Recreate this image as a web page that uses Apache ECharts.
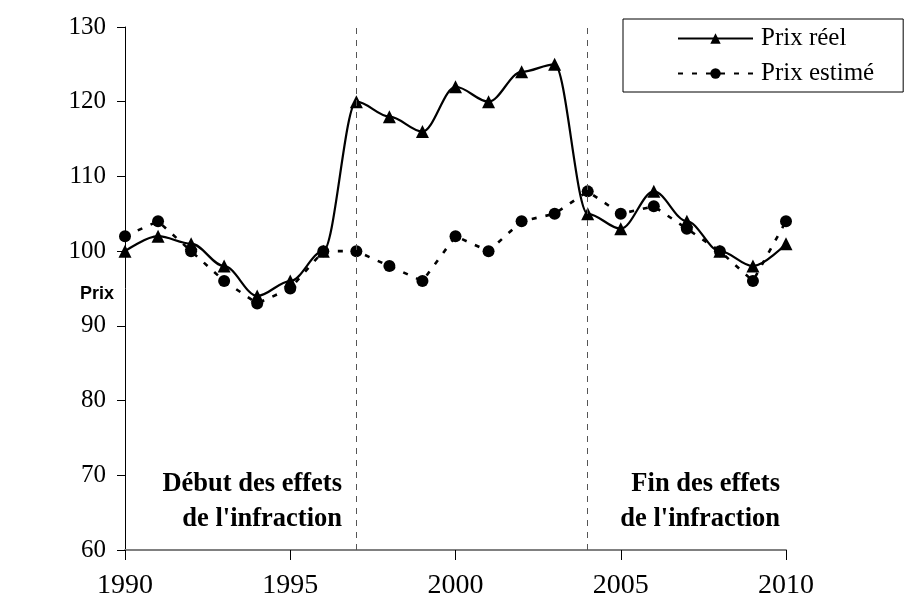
<!DOCTYPE html>
<html>
<head>
<meta charset="utf-8">
<script src="https://cdn.jsdelivr.net/npm/echarts@6/dist/echarts.min.js"></script>
<style>
  html, body { margin: 0; padding: 0; background: #fff; }
  #chart { width: 922px; height: 608px; }
</style>
</head>
<body>
<div id="chart"></div>
<script>
// années
const years = [1990, 1991, 1992, 1993, 1994, 1995, 1996, 1997, 1998, 1999, 2000,
  2001, 2002, 2003, 2004, 2005, 2006, 2007, 2008, 2009, 2010]
// prix réel
const prixReel = [100, 102, 101, 98, 94, 96, 100, 120, 118, 116, 122,
  120, 124, 125, 105, 103, 108, 104, 100, 98, 101]
// prix estimé
const prixEstime = [102, 104, 100, 96, 93, 95, 100, 100, 98, 96, 102,
  100, 104, 105, 108, 105, 106, 103, 100, 96, 104]
// début et fin des effets
const periodeInfraction = [1997, 2004]

const serif = '"Liberation Serif", "Times New Roman", serif'
const annotFont = 'bold 26.5px ' + serif

// une ligne de texte alignée à droite
const annot = (text, right, top) => ({
  type: 'text',
  right: 922 - right,
  top: top,
  style: { text: text, font: annotFont, fill: '#000' }
})

const chart = echarts.init(document.getElementById('chart'))

chart.setOption({
  animation: false,
  grid: { left: 125, right: 136, top: 27, bottom: 58 },
  legend: {
    orient: 'vertical',
    left: 623,
    top: 19,
    padding: [7, 29, 6, 54],
    itemGap: 10,
    itemWidth: 75,
    itemHeight: 13,
    borderColor: '#000',
    borderWidth: 1,
    borderRadius: 0,
    textStyle: { fontFamily: serif, fontSize: 25, color: '#000', padding: [0, 0, 0, 3] },
    data: ['Prix réel', 'Prix estimé']
  },
  xAxis: {
    type: 'value',
    min: 1990,
    max: 2010,
    interval: 5,
    axisLine: { lineStyle: { color: '#808080', width: 2 } },
    axisTick: { lineStyle: { color: '#000' }, length: 10 },
    axisLabel: {
      fontFamily: serif, fontSize: 28, color: '#000', margin: 22,
      formatter: v => String(v)
    },
    splitLine: { show: false }
  },
  yAxis: {
    type: 'value',
    min: 60,
    max: 130,
    interval: 10,
    axisLine: { show: true, lineStyle: { color: '#000', width: 1 } },
    axisTick: { show: true, length: 8, lineStyle: { color: '#000' } },
    axisLabel: { fontFamily: serif, fontSize: 25, color: '#000', margin: 19 },
    splitLine: { show: false }
  },
  series: [
    {
      name: 'Prix réel',
      type: 'line',
      smooth: 0.34,
      smoothMonotone: 'x',
      data: years.map((y, i) => [y, prixReel[i]]),
      symbol: 'triangle',
      symbolSize: 13,
      itemStyle: { color: '#000' },
      lineStyle: { color: '#000', width: 2.2 },
      markLine: {
        silent: true,
        symbol: 'none',
        label: { show: false },
        lineStyle: { color: '#555', width: 1, type: [6, 6] },
        data: periodeInfraction.map(v => ({ xAxis: v }))
      }
    },
    {
      name: 'Prix estimé',
      type: 'line',
      data: years.map((y, i) => [y, prixEstime[i]]),
      symbol: 'circle',
      symbolSize: 12,
      itemStyle: { color: '#000' },
      lineStyle: { color: '#000', width: 2.6, type: [5, 9] }
    }
  ],
  graphic: [
    {
      type: 'text',
      left: 80,
      top: 285,
      style: {
        text: 'Prix',
        font: 'bold 18px "Liberation Sans", Arial, sans-serif',
        fill: '#000'
      }
    },
    annot('Début des effets', 342, 471),
    annot('de l\'infraction', 342, 506),
    annot('Fin des effets', 780, 471),
    annot('de l\'infraction', 780, 506)
  ]
})
</script>
</body>
</html>
